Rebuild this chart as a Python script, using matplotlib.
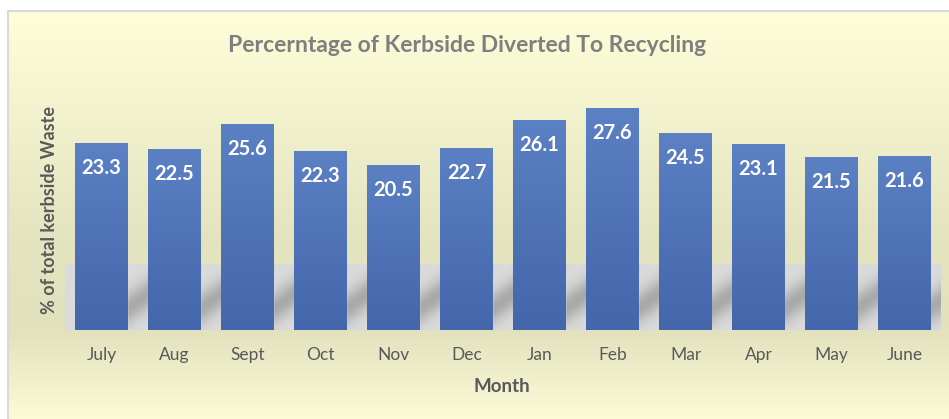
import numpy as np
import matplotlib.pyplot as plt
from matplotlib.colors import LinearSegmentedColormap

months = ['July', 'Aug', 'Sept', 'Oct', 'Nov', 'Dec', 'Jan', 'Feb', 'Mar', 'Apr', 'May', 'June']
pct_diverted = [23.3, 22.5, 25.6, 22.3, 20.5, 22.7, 26.1, 27.6, 24.5, 23.1, 21.5, 21.6]

title = 'Percerntage of Kerbside Diverted To Recycling'
x_title = 'Month'
y_title = '% of total kerbside Waste'

plt.rcParams['font.family'] = ['Lato', 'DejaVu Sans']

W, H = 949, 419
fig = plt.figure(figsize=(W / 100, H / 100), dpi=100)
fig.patch.set_facecolor('white')

# chart background: soft yellow gradient with thin gray border
bg = fig.add_axes([8 / W, 0, 1 - 8 / W, (H - 11) / H])
stops = [(0.0, (254, 254, 218)), (0.55, (229, 228, 193)), (0.78, (226, 225, 190)), (1.0, (251, 251, 215))]
bg_cmap = LinearSegmentedColormap.from_list('bg', [(p, tuple(c / 255 for c in rgb)) for p, rgb in stops])
bg.imshow(np.linspace(0, 1, 256).reshape(-1, 1), cmap=bg_cmap, aspect='auto', extent=[0, 1, 0, 1])
bg.set_xlim(0, 1)
bg.set_ylim(0, 1)
bg.set_xticks([])
bg.set_yticks([])
for side in ['right', 'bottom']:
    bg.spines[side].set_visible(False)
for side in ['top', 'left']:
    bg.spines[side].set_color('#D9D9D9')
    bg.spines[side].set_linewidth(1.5)

ax = fig.add_axes([65 / W, (H - 330) / H, 876 / W, 241 / H])
ax.patch.set_alpha(0)
ymax = 30
bar_w = 0.726

# floor band with soft diagonal bar shadows
floor_top = 8.2
xs = np.linspace(-0.5, len(months) - 0.5, 900)
ys = np.linspace(-0.1, floor_top, 120)
X, Y = np.meshgrid(xs, ys)
right_edges = np.arange(len(months)) + bar_w / 2
dx = X - right_edges[np.clip(np.floor(X - bar_w / 2).astype(int), 0, len(months) - 1)]
centre = 2.7 + 6.5 * dx
shade = np.where(dx >= 0, np.exp(-((Y - centre) / 2.0) ** 2), 0.0)
grey = (219 - 50 * shade) / 255
floor_img = np.dstack([grey, grey, grey])
ax.imshow(floor_img, extent=[-0.5, len(months) - 0.5, -0.1, floor_top], origin='lower',
          aspect='auto', zorder=1, interpolation='bilinear')

bars = ax.bar(range(len(months)), pct_diverted, width=bar_w, color='#4F74B8', zorder=2, linewidth=0)
bar_cmap = LinearSegmentedColormap.from_list('bar', ['#4466AA', '#5B80C4'])
for b in bars:
    x0, h = b.get_x(), b.get_height()
    im = ax.imshow(np.linspace(0, 1, 100).reshape(-1, 1), cmap=bar_cmap, origin='lower', aspect='auto',
                   extent=[x0, x0 + b.get_width(), 0, h], zorder=3)
    im.set_clip_path(b)
    ax.annotate(f'{h:.1f}', xy=(b.get_x() + b.get_width() / 2, h), xytext=(0, -18),
                textcoords='offset points', ha='center', va='center',
                color='white', fontsize=14.5, fontweight='bold', zorder=4)

ax.set_xlim(-0.5, len(months) - 0.5)
ax.set_ylim(0, ymax)
ax.set_xticks(range(len(months)))
ax.set_xticklabels(months, fontsize=12.5, color='#595959')
ax.tick_params(axis='x', length=0, pad=12.5)
ax.set_yticks([])
for s in ax.spines.values():
    s.set_visible(False)

fig.text(467 / W, 1 - 45 / H, title, ha='center', va='center', fontsize=16.5,
         fontweight='bold', color='#7F7F7F')
fig.text(502 / W, 1 - 386 / H, x_title, ha='center', va='center', fontsize=13.5,
         fontweight='bold', color='#595959')
fig.text(50 / W, 1 - 210 / H, y_title, ha='center', va='center', rotation=90, fontsize=13,
         fontweight='bold', color='#595959')

fig.savefig('out.png', dpi=100)
